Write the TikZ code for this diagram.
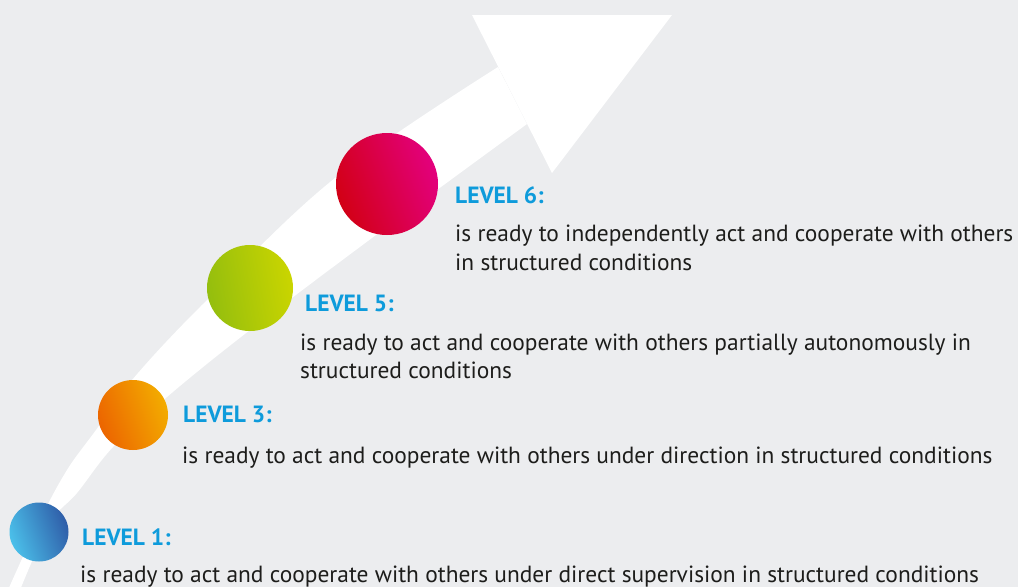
\documentclass[tikz,border=0pt]{standalone}
\usepackage{fontspec}
\setmainfont{PT Sans}
\begin{document}
\definecolor{bgray}{HTML}{ECEDEF}
\definecolor{lvlblue}{HTML}{0E9BDB}
\definecolor{bodyink}{HTML}{1D1D1B}
\definecolor{oneA}{HTML}{4BC0EA}
\definecolor{oneB}{HTML}{2F5DA8}
\definecolor{threeA}{HTML}{EC6500}
\definecolor{threeB}{HTML}{F3AC00}
\definecolor{fiveA}{HTML}{94BE0E}
\definecolor{fiveB}{HTML}{CAD500}
\definecolor{sixA}{HTML}{D20015}
\definecolor{sixB}{HTML}{E3007D}
\begin{tikzpicture}[x=1pt,y=-1pt,
  dot/.style={circle,minimum size=#1,inner sep=0pt},
  lvl/.style={anchor=base west,inner sep=0pt,font=\fontsize{23.5}{28}\selectfont\bfseries,text=lvlblue},
  desc/.style={anchor=base west,inner sep=0pt,align=left,font=\fontsize{23.4}{29}\selectfont,text=bodyink}]
% background and page size
\fill[bgray] (0,0) rectangle (1018,587);
\useasboundingbox (0,0) rectangle (1018,587);
\begin{scope}
\clip (0,0) rectangle (1018,587);
% curved white arrow: shaft
\fill[white] plot[smooth,tension=0.6] coordinates {(498,67) (335,178) (205,302) (132,380) (96,430) (67,470) (40,520) (8,590)}
  -- plot[smooth,tension=0.6] coordinates {(20,590) (50,523) (77,493) (113,447) (167,397) (250,330) (380,232) (527,124)} -- cycle;
% arrow head
\fill[white] (472,15) -- (672,15) -- (552,173) -- cycle;
\end{scope}
% level markers
\node[dot=59pt,left color=oneA,right color=oneB,shading angle=110] (c1) at (39,532) {};
\node[dot=70pt,left color=threeA,right color=threeB,shading angle=110] (c3) at (133,415) {};
\node[dot=86pt,left color=fiveA,right color=fiveB,shading angle=100] (c5) at (250,288) {};
\node[dot=102pt,left color=sixA,right color=sixB,shading angle=110] (c6) at (387,184) {};
% labels (for two-line texts the base anchor sits on the last line)
\node[lvl] (l6) at (455,203) {LEVEL 6:};
\node[desc] (d6) at (455,270) {is ready to independently act and cooperate with others\\in structured conditions};
\node[lvl] (l5) at (305,311) {LEVEL 5:};
\node[desc,font=\fontsize{23.4}{28}\selectfont] (d5) at (300,378) {is ready to act and cooperate with others partially autonomously in\\structured conditions};
\node[lvl] (l3) at (183,422) {LEVEL 3:};
\node[desc] (d3) at (182,463) {is ready to act and cooperate with others under direction in structured conditions};
\node[lvl] (l1) at (82,545) {LEVEL 1:};
\node[desc] (d1) at (80,582) {is ready to act and cooperate with others under direct supervision in structured conditions};
\end{tikzpicture}
\end{document}
